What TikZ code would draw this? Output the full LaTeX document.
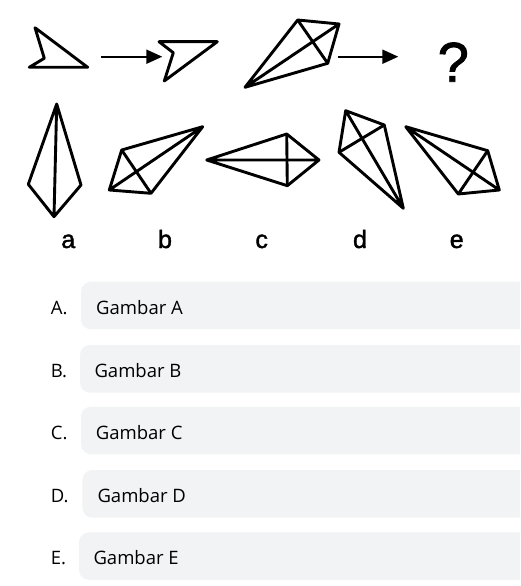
\documentclass[tikz,border=0pt]{standalone}
\usepackage{fontspec}
\setmainfont{Open Sans}
\newfontfamily\figfont[FakeBold=1.6]{Liberation Sans}
\usetikzlibrary{arrows.meta}
\definecolor{boxgrey}{RGB}{242,243,245}

\begin{document}
\begin{tikzpicture}[x=1pt,y=-1pt]


% GLOBAL SETTINGS
\newcommand{\figlw}{2.9pt}
\newcommand{\boxh}{47.6}
\newcommand{\boxr}{535}
\tikzset{
  fig/.style={line width=\figlw, line join=round},
  pointer/.style={line width=2pt, -{Triangle[length=16pt,width=14pt]}},
  optbox/.style={fill=boxgrey, rounded corners=10pt},
  letter/.style={font=\figfont\fontsize{25}{25}\selectfont, anchor=base, inner sep=0pt},
  opttext/.style={font=\fontsize{18.5}{20}\selectfont, anchor=base west, inner sep=0pt}
}

% FRAME
\useasboundingbox (0,0) rectangle (520,586);
\clip (0,0) rectangle (520,586);

% TOP ROW
\path
(35,27.7) coordinate (P1) (87.7,67.3) coordinate (P2)
(29.3,67.3) coordinate (P3) (44.3,58.3) coordinate (P4)
(159,41.7) coordinate (Q1) (217.3,41.7) coordinate (Q2)
(164.3,81) coordinate (Q3) (173.3,52.7) coordinate (Q4);
\draw[fig] (P1) -- (P2) -- (P3) -- (P4) -- cycle;
\draw[fig] (Q1) -- (Q2) -- (Q3) -- (Q4) -- cycle;
% arrows
\path
(101,56.7) coordinate (u1) (162.3,56.7) coordinate (v1)
(337.7,56.7) coordinate (u2) (398.3,56.7) coordinate (v2);
\draw[pointer] (u1) -- (v1);
\draw[pointer] (u2) -- (v2);
\node[font=\figfont\fontsize{56}{56}\selectfont, anchor=base, inner sep=0pt] (Qm) at (453.3,81.7) {?};

% KITES
\path
(245,87.3) coordinate (K1) (297.7,20) coordinate (K2)
(339,24) coordinate (K3) (327.7,63.3) coordinate (K4)
(56.7,104) coordinate (a1) (28.3,184.3) coordinate (a2)
(54,216.7) coordinate (a3) (81,185) coordinate (a4)
(109.3,190) coordinate (b1) (121.7,150) coordinate (b2)
(202.7,126.7) coordinate (b3) (151,193.3) coordinate (b4)
(206.7,160) coordinate (c1) (286.7,134) coordinate (c2)
(319,160) coordinate (c3) (287.3,185.7) coordinate (c4)
(345.7,110.7) coordinate (d1) (384.3,125) coordinate (d2)
(403.3,208.3) coordinate (d3) (339,152.3) coordinate (d4)
(405.7,126.7) coordinate (e1) (487.7,150.7) coordinate (e2)
(499.3,190) coordinate (e3) (458.3,194) coordinate (e4);
\foreach \k in {K,a,b,c,d,e} {
\draw[fig] (\k1) -- (\k2) -- (\k3) -- (\k4) -- cycle (\k1) -- (\k3);
}
\foreach \k in {K,b,c,d,e} {
\draw[fig] (\k2) -- (\k4);
}
% letters
\foreach \k/\x in {a/68.3,b/165,c/261.7,d/360,e/456.7} {
\node[letter] (L\k) at (\x,248) {\k};
}

% OPTIONS
\foreach \L/\ty/\bx/\tx in {A/281.7/81/96,B/345/80/94.3,C/406.7/81/95.7,D/470/82.3/97.3,E/532.3/79/93.3} {
\path[optbox] (\bx,\ty) rectangle (\boxr,\ty+\boxh);
\node[opttext] (key\L) at (50.7,\ty+32.3) {\L.};
\node[opttext] (opt\L) at (\tx,\ty+32.3) {Gambar \L};
}

\end{tikzpicture}
\end{document}
